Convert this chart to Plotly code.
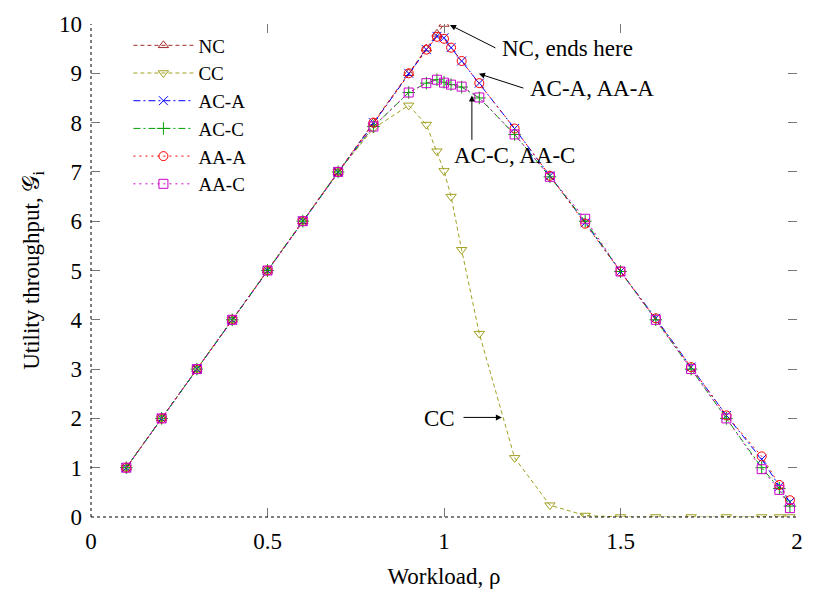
import plotly.graph_objects as go

# ---------------- data ----------------
rho = [0.1, 0.2, 0.3, 0.4, 0.5, 0.6, 0.7, 0.8, 0.9, 0.95, 0.98, 1.0, 1.02, 1.05,
       1.1, 1.2, 1.3, 1.4, 1.5, 1.6, 1.7, 1.8, 1.9, 1.95, 1.98]

nc_rho = [0.1, 0.2, 0.3, 0.4, 0.5, 0.6, 0.7, 0.8, 0.9, 0.95, 0.98, 1.0]
nc = [1, 2, 3, 4, 5, 6, 7, 8, 9, 9.5, 9.8, 10]

cc = [1, 2, 3, 4, 5, 6, 7, 7.88, 8.35, 7.96, 7.42, 7.02, 6.5, 5.42, 3.72,
      1.2, 0.24, 0.03, 0, 0, 0, 0, 0, 0, 0]
ac_a = [1, 2, 3, 4, 5, 6, 7, 8, 9, 9.48, 9.75, 9.72, 9.52, 9.25, 8.8,
        7.88, 6.92, 5.97, 4.98, 4.03, 3.04, 2.06, 1.17, 0.62, 0.3]
ac_c = [1, 2, 3, 4, 5, 6, 7, 7.92, 8.61, 8.8, 8.87, 8.82, 8.77, 8.72, 8.5,
        7.76, 6.9, 6.0, 4.98, 4.0, 3.0, 2.0, 1.0, 0.58, 0.22]
aa_a = [1, 2, 3, 4, 5, 6, 7, 8, 9, 9.48, 9.74, 9.7, 9.52, 9.25, 8.8,
        7.88, 6.92, 5.95, 4.98, 4.03, 3.04, 2.06, 1.23, 0.65, 0.34]
aa_c = [1, 2, 3, 4, 5, 6, 7, 7.92, 8.61, 8.8, 8.87, 8.81, 8.77, 8.73, 8.51,
        7.76, 6.9, 6.05, 4.98, 4.0, 3.0, 2.0, 0.97, 0.55, 0.18]

x_ticks = [0, 0.5, 1, 1.5, 2]
x_tick_text = ["0", "0.5", "1", "1.5", "2"]
y_ticks = list(range(0, 11))

# ---------------- styling ----------------
FONT = "Liberation Serif"
FS = 23

series = [
    ("NC", nc_rho, nc, "#a52a2a", "4px,3px", "triangle-up-open"),
    ("CC", rho, cc, "#a0a020", "4px,3px", "triangle-down-open"),
    ("AC-A", rho, ac_a, "#0000ff", "7px,3px,2px,3px", "x-thin-open"),
    ("AC-C", rho, ac_c, "#00a000", "7px,3px,2px,3px", "cross-thin-open"),
    ("AA-A", rho, aa_a, "#ff0000", "2px,4px", "circle-open"),
    ("AA-C", rho, aa_c, "#cc00cc", "2px,4px", "square-open"),
]

fig = go.Figure()
for name, xs, ys, col, dash, sym in series:
    fig.add_trace(go.Scatter(
        x=xs, y=ys, name=name, mode="lines+markers",
        line=dict(color=col, width=1, dash=dash),
        marker=dict(symbol=sym, size=9, color=col, line=dict(color=col, width=1)),
    ))

axis_common = dict(
    showgrid=False, zeroline=False, showline=False,
    ticks="inside", ticklen=9, tickwidth=1, tickcolor="#777777",
    mirror="ticks",
    tickfont=dict(family=FONT, size=FS, color="black"),
    title_font=dict(family=FONT, size=FS, color="black"),
)

fig.update_layout(
    width=816, height=596,
    margin=dict(l=91, r=19, t=17, b=75),
    paper_bgcolor="white", plot_bgcolor="white",
    font=dict(family=FONT, size=FS, color="black"),
    xaxis=dict(range=[0, 2], tickvals=x_ticks, ticktext=x_tick_text,
               title=dict(text="Workload, ρ", standoff=14),
               ticklabelstandoff=8, **axis_common),
    yaxis=dict(range=[0, 10], tickvals=y_ticks,
               title=dict(text="Utility throughput, 𝒢<sub>i</sub>", standoff=12),
               ticklabelstandoff=8, **axis_common),
    legend=dict(x=0.053, y=0.995, xanchor="left", yanchor="top",
                bgcolor="rgba(0,0,0,0)", font=dict(family=FONT, size=19),
                itemwidth=60, tracegroupgap=0),
    showlegend=True,
)

# dotted border on left and bottom
fig.add_shape(type="line", xref="x domain", yref="y domain", x0=0, x1=0, y0=0, y1=1,
              line=dict(color="black", width=1, dash="dot"))
fig.add_shape(type="line", xref="x domain", yref="y domain", x0=0, x1=1, y0=0, y1=0,
              line=dict(color="black", width=1, dash="dot"))

# annotations: arrows (no text) + labels
arrows = [
    (1.017, 9.98, 1.150, 9.50),
    (1.099, 8.99, 1.229, 8.69),
    (1.079, 8.55, 1.079, 7.62),
    (1.164, 2.02, 1.051, 2.02),
]
for hx, hy, tx, ty in arrows:
    fig.add_annotation(x=hx, y=hy, ax=tx, ay=ty, xref="x", yref="y",
                       axref="x", ayref="y", text="", showarrow=True,
                       arrowhead=2, arrowsize=1.2, arrowwidth=1, arrowcolor="black")

labels = [
    ("NC, ends here", 1.158, 9.50, "left", "middle"),
    ("AC-A, AA-A", 1.237, 8.69, "left", "middle"),
    ("AC-C, AA-C", 1.022, 7.62, "left", "top"),
    ("CC", 0.986, 2.0, "center", "middle"),
]
for txt, lx, ly, xa, ya in labels:
    fig.add_annotation(x=lx, y=ly, xref="x", yref="y", text=txt, showarrow=False,
                       xanchor=xa, yanchor=ya,
                       font=dict(family=FONT, size=FS, color="black"))

fig.write_html("out.html")
